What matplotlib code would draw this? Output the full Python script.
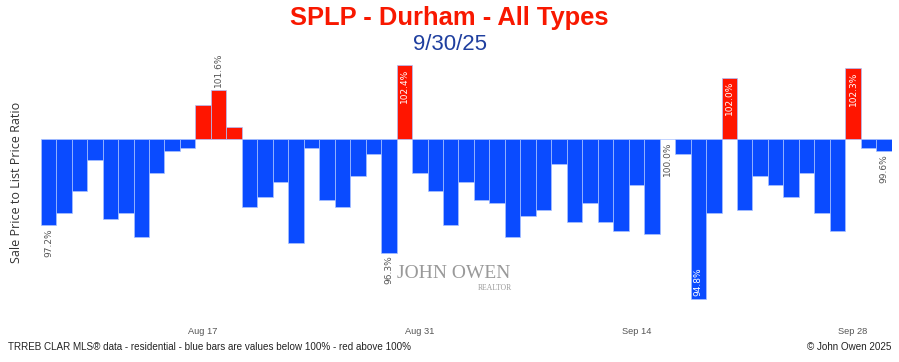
import numpy as np
import pandas as pd
import matplotlib
matplotlib.use("Agg")
import matplotlib.pyplot as plt
import matplotlib.dates as mdates
import matplotlib.transforms as mtransforms

# daily sale price to list price ratio, Aug 7 - Sep 30 2025
dates = pd.date_range("2025-08-07", "2025-09-30", freq="D")
splp = [97.2, 97.6, 98.3, 99.3, 97.4, 97.6, 96.8, 98.9, 99.6, 99.7,
        101.1, 101.6, 100.4, 97.8, 98.1, 98.6, 96.6, 99.7, 98.0, 97.8,
        98.8, 99.5, 96.3, 102.4, 98.9, 98.3, 97.2, 98.6, 98.0, 97.9,
        96.8, 97.5, 97.7, 99.2, 97.3, 97.9, 97.3, 97.0, 98.5, 96.9,
        100.0, 99.5, 94.8, 97.6, 102.0, 97.7, 98.8, 98.5, 98.1, 98.9,
        97.6, 97.0, 102.3, 99.7, 99.6]

# which bars get a value label, and whether it sits inside the bar
label_idx = [0, 11, 22, 23, 40, 42, 44, 52, 54]
label_inside = [False, False, False, True, False, True, True, True, False]

tick_dates = ["2025-08-17", "2025-08-31", "2025-09-14", "2025-09-28"]

title = "SPLP - Durham - All Types"
subtitle = "9/30/25"
ylabel = "Sale Price to List Price Ratio"
footer_left = "TRREB CLAR MLS\u00ae data - residential - blue bars are values below 100% - red above 100%"
footer_right = "\u00a9 John Owen 2025"

blue = "#0a4bff"
red = "#ff1500"

W, H = 899, 362
fig = plt.figure(figsize=(W / 100, H / 100), dpi=100)
ax = fig.add_axes([40.7 / W, 1 - 310 / H, (891.7 - 40.7) / W, (310 - 55) / H])

vals = np.array(splp)
x = mdates.date2num(dates)
cols = [red if v > 100 else blue for v in vals]
ax.bar(x, vals - 100, bottom=100, width=1.0, color=cols,
       edgecolor="#a9c2ff", linewidth=0.5, align="center")

ax.set_xlim(x[0] - 0.5, x[-1] + 0.5)
ax.set_ylim(100 - (310 - 139) / 30.7, 100 + (139 - 55) / 30.7)

for s in ax.spines.values():
    s.set_visible(False)
ax.set_yticks([])
ax.set_xticks(mdates.date2num(pd.to_datetime(tick_dates)))
ax.xaxis.set_major_formatter(mdates.DateFormatter("%b %d"))
ax.tick_params(axis="x", length=0, pad=12, labelsize=6.7, labelcolor="#555555")
for t in ax.get_xticklabels():
    t.set_family("Liberation Sans")

# value labels
for i, inside in zip(label_idx, label_inside):
    v = vals[i]
    up = v > 100
    if inside:
        dy = -3 if up else 3
        va = "top" if up else "bottom"
        c = "white"
    else:
        dy = 3 if up else -3
        va = "bottom" if up else "top"
        c = "#555555"
    off = mtransforms.offset_copy(ax.transData, fig=fig, x=0, y=dy, units="dots")
    ax.text(x[i], v, f"{v:.1f}%", rotation=90, ha="center", va=va,
            color=c, fontsize=6.5, transform=off, family="DejaVu Sans")

# watermark
fig.text(454 / W, 1 - 274 / H, "JOHN OWEN", ha="center", va="center",
         fontsize=14, color="#999999", family="Liberation Serif")
fig.text(512 / W, 1 - 288 / H, "REALTOR", ha="right", va="center",
         fontsize=5.5, color="#999999", family="Liberation Serif")

fig.text(0.5, 1 - 18 / H, title, ha="center", va="center", fontsize=18.4,
         fontweight="bold", color="#f81800", family="Liberation Sans")
fig.text(0.5, 1 - 45 / H, subtitle, ha="center", va="center", fontsize=16,
         color="#1f3f9f", family="Liberation Sans")
fig.text(17 / W, 1 - 182 / H, ylabel, rotation=90, ha="center", va="center",
         fontsize=9, color="#333333", family="Open Sans")
fig.text(8 / W, 1 - 347 / H, footer_left, ha="left", va="center",
         fontsize=7.1, color="#222222", family="Liberation Sans")
fig.text(891 / W, 1 - 347 / H, footer_right, ha="right", va="center",
         fontsize=7.1, color="#222222", family="Liberation Sans")

fig.savefig("out.png", dpi=100, facecolor="white")
